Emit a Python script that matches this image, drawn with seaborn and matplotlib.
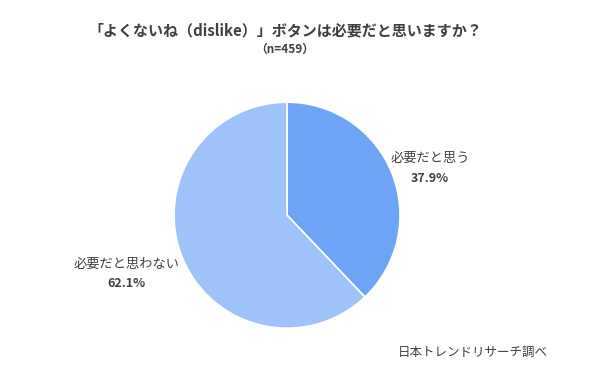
import matplotlib
matplotlib.use("Agg")
import matplotlib.pyplot as plt
import seaborn as sns

# データ
labels = ['必要だと思う', '必要だと思わない']
values = [37.9, 62.1]
colors = ['#6ea4f6', '#9ec2fa']
title = '「よくないね（dislike）」ボタンは必要だと思いますか？'
subtitle = '（n=459）'
source = '日本トレンドリサーチ調べ'

sns.set_style('white')
plt.rcParams['font.family'] = ['Noto Sans CJK JP', 'DejaVu Sans']

fig = plt.figure(figsize=(5.9, 3.7), dpi=100)
ax = fig.add_axes([0.295, 0.113, 0.383, 0.611])
wedges, _ = ax.pie(values, colors=colors, startangle=90, counterclock=False,
                   radius=1, wedgeprops=dict(edgecolor='white', linewidth=1.2))
ax.set_xlim(-1, 1)
ax.set_ylim(-1, 1)
ax.set_aspect('equal')
ax.axis('off')

# 見出し
fig.text(0.483, 0.918, title, ha='center', va='center', fontsize=10.8,
         fontweight='bold', color='#3f3f3f')
fig.text(0.483, 0.868, subtitle, ha='center', va='center', fontsize=8.5,
         fontweight='bold', color='#3f3f3f')

# ラベル
fig.text(0.729, 0.573, labels[0], ha='center', va='center', fontsize=9.5, color='#404040')
fig.text(0.729, 0.518, f'{values[0]}%', ha='center', va='center', fontsize=9,
         fontweight='bold', color='#404040')
fig.text(0.215, 0.286, labels[1], ha='center', va='center', fontsize=9.5, color='#404040')
fig.text(0.215, 0.235, f'{values[1]}%', ha='center', va='center', fontsize=9,
         fontweight='bold', color='#404040')

fig.text(0.801, 0.048, source, ha='center', va='center', fontsize=9, color='#404040')

fig.savefig('out.png', dpi=100)
